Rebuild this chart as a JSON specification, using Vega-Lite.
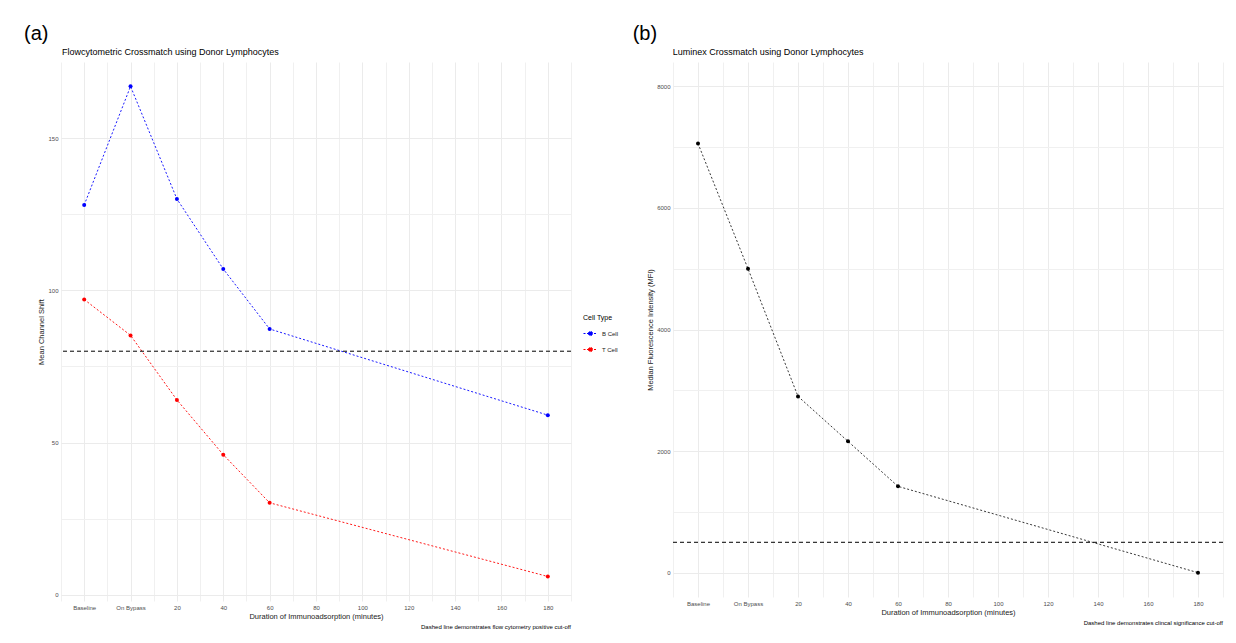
{
  "$schema": "https://vega.github.io/schema/vega-lite/v6.json",
  "background": "white",
  "padding": {"left": 23, "top": 24, "right": 10, "bottom": 5},
  "config": {
    "font": "Liberation Sans",
    "view": {"stroke": null},
    "axis": {"domain": false, "ticks": false, "labelFontSize": 6, "labelColor": "#4d4d4d", "titleFontSize": 7.5, "titleFontWeight": "normal", "titleColor": "#1a1a1a", "gridColor": "#ebebeb", "gridWidth": 1, "labelPadding": 3, "titlePadding": 2},
    "title": {"fontWeight": "normal", "color": "#000000"},
    "legend": {"titleFontSize": 7, "titleFontWeight": "normal", "titleColor": "#000000", "labelFontSize": 6, "labelColor": "#1a1a1a"}
  },
  "spacing": 60,
  "hconcat": [
    {
      "title": {"text": "(a)", "anchor": "start", "frame": "bounds", "fontSize": 20, "dx": -14, "offset": 4},
      "vconcat": [
        {
          "title": {"text": "Flowcytometric Crossmatch using Donor Lymphocytes", "anchor": "start", "frame": "bounds", "fontSize": 9, "dx": 24, "offset": 5},
          "vconcat": [
            {
              "width": 510,
              "height": 539,
              "title": {"text": "Dashed line demonstrates flow cytometry positive cut-off", "orient": "bottom", "anchor": "end", "frame": "group", "fontSize": 6, "offset": 4},
              "data": {"values": [
                {"time": -20, "timepoint": "Baseline", "cell": "B Cell", "shift": 128},
                {"time": 0, "timepoint": "On Bypass", "cell": "B Cell", "shift": 167},
                {"time": 20, "timepoint": "20", "cell": "B Cell", "shift": 130},
                {"time": 40, "timepoint": "40", "cell": "B Cell", "shift": 107},
                {"time": 60, "timepoint": "60", "cell": "B Cell", "shift": 87.3},
                {"time": 180, "timepoint": "180", "cell": "B Cell", "shift": 59},
                {"time": -20, "timepoint": "Baseline", "cell": "T Cell", "shift": 97},
                {"time": 0, "timepoint": "On Bypass", "cell": "T Cell", "shift": 85.2},
                {"time": 20, "timepoint": "20", "cell": "T Cell", "shift": 64},
                {"time": 40, "timepoint": "40", "cell": "T Cell", "shift": 46},
                {"time": 60, "timepoint": "60", "cell": "T Cell", "shift": 30.2},
                {"time": 180, "timepoint": "180", "cell": "T Cell", "shift": 6}
              ]},
              "layer": [
                {
                  "mark": {"type": "line", "strokeDash": [2, 2], "strokeWidth": 0.9},
                  "encoding": {
                    "x": {"field": "time", "type": "quantitative", "scale": {"domain": [-30, 190], "nice": false, "zero": false},
                      "axis": {"values": [-20, 0, 20, 40, 60, 80, 100, 120, 140, 160, 180], "labelExpr": "datum.value == -20 ? 'Baseline' : datum.value == 0 ? 'On Bypass' : datum.label", "title": "Duration of Immunoadsorption (minutes)"}},
                    "y": {"field": "shift", "type": "quantitative", "scale": {"domain": [-2.05, 175], "nice": false, "zero": false},
                      "axis": {"values": [0, 50, 100, 150], "format": "d", "title": "Mean Channel Shift"}},
                    "color": {"field": "cell", "type": "nominal", "scale": {"domain": ["B Cell", "T Cell"], "range": ["#0000ff", "#ff0000"]},
                      "legend": {"title": "Cell Type", "orient": "none", "legendX": 522, "legendY": 252, "symbolType": "M-1,0L1,0M-0.3,0A0.3,0.3 0 1,0 0.3,0A0.3,0.3 0 1,0 -0.3,0", "symbolStrokeWidth": 1, "symbolDash": [2, 1.5], "symbolSize": 196, "rowPadding": 4}}
                  }
                },
                {
                  "mark": {"type": "point", "filled": true, "size": 16, "opacity": 1},
                  "encoding": {
                    "x": {"field": "time", "type": "quantitative", "axis": {"orient": "top", "values": [-30, -10, 10, 30, 50, 70, 90, 110, 130, 150, 170, 190], "labels": false, "title": null, "grid": true, "gridColor": "#f0f0f0"}},
                    "y": {"field": "shift", "type": "quantitative", "axis": {"orient": "right", "values": [25, 75, 125], "labels": false, "title": null, "grid": true, "gridColor": "#f0f0f0"}},
                    "color": {"field": "cell", "type": "nominal", "legend": null}
                  }
                },
                {
                  "data": {"values": [{"cutoff": 80}]},
                  "mark": {"type": "rule", "strokeDash": [4, 3], "strokeWidth": 1, "color": "#000000"},
                  "encoding": {"y": {"field": "cutoff", "type": "quantitative", "axis": null}}
                }
              ],
              "resolve": {"axis": {"x": "independent", "y": "independent"}}
            }
          ]
        }
      ]
    },
    {
      "title": {"text": "(b)", "anchor": "start", "frame": "bounds", "fontSize": 20, "dx": -14, "offset": 4},
      "vconcat": [
        {
          "title": {"text": "Luminex Crossmatch using Donor Lymphocytes", "anchor": "start", "frame": "bounds", "fontSize": 9, "dx": 26, "offset": 5},
          "vconcat": [
            {
              "width": 550,
              "height": 535,
              "title": {"text": "Dashed line demonstrates clincal significance cut-off", "orient": "bottom", "anchor": "end", "frame": "group", "fontSize": 6, "offset": 4},
              "data": {"values": [
                {"time": -20, "timepoint": "Baseline", "mfi": 7060},
                {"time": 0, "timepoint": "On Bypass", "mfi": 5000},
                {"time": 20, "timepoint": "20", "mfi": 2900},
                {"time": 40, "timepoint": "40", "mfi": 2160},
                {"time": 60, "timepoint": "60", "mfi": 1420},
                {"time": 180, "timepoint": "180", "mfi": 0}
              ]},
              "layer": [
                {
                  "mark": {"type": "line", "strokeDash": [2, 2], "strokeWidth": 0.9, "color": "#222222"},
                  "encoding": {
                    "x": {"field": "time", "type": "quantitative", "scale": {"domain": [-30, 190], "nice": false, "zero": false},
                      "axis": {"values": [-20, 0, 20, 40, 60, 80, 100, 120, 140, 160, 180], "labelExpr": "datum.value == -20 ? 'Baseline' : datum.value == 0 ? 'On Bypass' : datum.label", "title": "Duration of Immunoadsorption (minutes)"}},
                    "y": {"field": "mfi", "type": "quantitative", "scale": {"domain": [-400, 8400], "nice": false, "zero": false},
                      "axis": {"values": [0, 2000, 4000, 6000, 8000], "format": "d", "title": "Median Fluorescence Intensity (MFI)"}}
                  }
                },
                {
                  "mark": {"type": "point", "filled": true, "size": 16, "opacity": 1, "color": "#000000"},
                  "encoding": {
                    "x": {"field": "time", "type": "quantitative", "axis": {"orient": "top", "values": [-30, -10, 10, 30, 50, 70, 90, 110, 130, 150, 170, 190], "labels": false, "title": null, "grid": true, "gridColor": "#f0f0f0"}},
                    "y": {"field": "mfi", "type": "quantitative", "axis": {"orient": "right", "values": [1000, 3000, 5000, 7000], "labels": false, "title": null, "grid": true, "gridColor": "#f0f0f0"}}
                  }
                },
                {
                  "data": {"values": [{"cutoff": 500}]},
                  "mark": {"type": "rule", "strokeDash": [4, 3], "strokeWidth": 1, "color": "#000000"},
                  "encoding": {"y": {"field": "cutoff", "type": "quantitative", "axis": null}}
                }
              ],
              "resolve": {"axis": {"x": "independent", "y": "independent"}}
            }
          ]
        }
      ]
    }
  ]
}
